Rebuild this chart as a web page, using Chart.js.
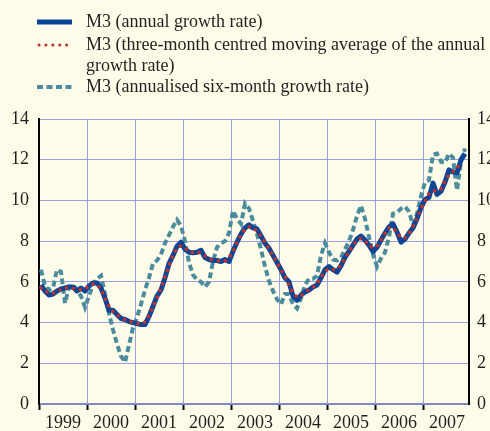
<!DOCTYPE html>
<html lang="en">
  <head>
    <meta charset="UTF-8" />
    <title>M3 growth</title>
    <script src="https://cdn.jsdelivr.net/npm/chart.js"></script>
    <style>
      body {
        margin: 0;
        background-color: #fffde9;
        font-family: "Liberation Serif", "Times New Roman", serif;
      }

      #wrap {
        position: relative;
        width: 490px;
        height: 431px;
        overflow: hidden;
      }

      #legend .row {
        position: absolute;
        left: 37px;
        font-size: 18px;
        line-height: 21px;
        color: #231f20;
        white-space: nowrap;
      }

      #legend svg {
        position: absolute;
        left: 0;
        top: 7px;
      }

      #legend span {
        position: absolute;
        left: 49px;
        top: 0;
      }
    </style>
  </head>
  <body>
    <div id="wrap">
      <canvas id="m3Chart"></canvas>
      <div id="legend"></div>
    </div>

    <script>
      // monthly values, Jan 1999 - Nov 2007
      const annualGrowth = [
        5.85, 5.55, 5.35, 5.4, 5.55, 5.65, 5.7, 5.75, 5.75, 5.55, 5.7, 5.55,
        5.8, 5.95, 5.95, 5.7, 5.2, 4.6, 4.6, 4.4, 4.2, 4.15, 4.05, 4.0,
        3.95, 3.9, 3.9, 4.3, 4.8, 5.3, 5.6, 6.2, 6.9, 7.3, 7.75, 7.95,
        7.6, 7.45, 7.43, 7.45, 7.55, 7.2, 7.1, 7.05, 7.05, 7.0, 7.1, 7.0,
        7.5, 7.95, 8.35, 8.65, 8.8, 8.65, 8.6, 8.25, 7.9, 7.65, 7.3, 6.95,
        6.6, 6.2, 6.0, 5.3, 5.1, 5.35, 5.5, 5.6, 5.75, 5.85, 6.2, 6.6,
        6.75, 6.6, 6.48, 6.8, 7.2, 7.5, 7.8, 8.1, 8.25, 8.05, 7.8, 7.5,
        7.7, 8.05, 8.4, 8.7, 8.85, 8.45, 7.95, 8.1, 8.4, 8.65, 9.1, 9.65,
        10.05, 10.15, 10.85, 10.3, 10.45, 10.9, 11.5, 11.4, 11.35, 12.0, 12.3,
      ];
      const movingAverage = [
        5.7, 5.58, 5.43, 5.43, 5.53, 5.63, 5.7, 5.73, 5.68, 5.67, 5.6, 5.68,
        5.77, 5.9, 5.87, 5.62, 5.17, 4.8, 4.53, 4.4, 4.25, 4.13, 4.07, 4.0,
        3.95, 3.92, 4.03, 4.33, 4.8, 5.23, 5.7, 6.23, 6.8, 7.32, 7.67, 7.77,
        7.67, 7.49, 7.44, 7.48, 7.4, 7.28, 7.12, 7.07, 7.03, 7.05, 7.03, 7.2,
        7.48, 7.93, 8.32, 8.6, 8.7, 8.68, 8.5, 8.25, 7.93, 7.62, 7.3, 6.95,
        6.58, 6.27, 5.83, 5.47, 5.25, 5.32, 5.48, 5.62, 5.73, 5.93, 6.22, 6.52,
        6.65, 6.61, 6.63, 6.83, 7.17, 7.5, 7.8, 8.05, 8.13, 8.03, 7.78, 7.67,
        7.75, 8.05, 8.38, 8.65, 8.67, 8.42, 8.17, 8.15, 8.38, 8.72, 9.13, 9.6,
        9.95, 10.35, 10.43, 10.53, 10.55, 10.95, 11.27, 11.42, 11.58, 11.88, null,
      ];
      const sixMonthGrowth = [
        6.6, 5.8, 5.6, 5.7, 6.6, 6.5, 4.95, 5.75, 5.85, 5.6, 5.3, 4.75,
        5.3, 5.9, 6.15, 6.3, 5.4, 4.45, 3.65, 2.95, 2.35, 2.05, 2.9, 3.75,
        4.25, 4.9, 5.6, 6.2, 6.9, 7.05, 7.35, 7.9, 8.3, 8.7, 9.05, 8.75,
        8.0, 6.95, 6.35, 6.1, 6.0, 5.75, 6.0, 7.0, 7.7, 7.9, 8.0, 8.4,
        9.5, 9.1, 8.85, 9.85, 9.6, 9.0, 8.35, 7.6, 6.75, 6.05, 5.55, 5.15,
        4.9, 5.4, 5.4, 4.9, 4.7, 5.2, 5.85, 6.15, 6.15, 6.3, 7.3, 7.9,
        7.45, 7.1, 7.05, 7.2, 7.6, 8.0, 8.55, 9.25, 9.75, 9.1, 8.2, 7.35,
        6.75, 7.15, 7.45, 8.2, 9.35, 9.4, 9.6, 9.7, 9.45, 8.8, 9.35, 10.2,
        10.9, 11.0, 12.25, 12.3, 11.9, 11.85, 12.3, 12.1, 10.5, 11.9, 12.55,
      ];
      const years = ["1999", "2000", "2001", "2002", "2003", "2004", "2005", "2006", "2007"];
      const seriesNames = [
        "M3 (annual growth rate)",
        "M3 (three-month centred moving average of the annual<br>growth rate)",
        "M3 (annualised six-month growth rate)",
      ];

      const blue = "#0b4596";
      const red = "#bf3229";
      const teal = "#4a8c9e";
      const gridColor = "#98a1dc";
      const serif = "'Liberation Serif', 'Times New Roman', serif";

      const toPoints = (arr) => arr.map((v, i) => ({ x: i + 0.5, y: v }));

      // legend drawn as html so the long label can wrap like the original
      const swatches = [
        `<line x1="0" y1="4" x2="35" y2="4" stroke="${blue}" stroke-width="5"/>`,
        `<line x1="2" y1="4" x2="35" y2="4" stroke="${red}" stroke-width="3" stroke-dasharray="0.1 6.8" stroke-linecap="round"/>`,
        `<line x1="0" y1="4" x2="35" y2="4" stroke="${teal}" stroke-width="4" stroke-dasharray="6 3.5"/>`,
      ];
      const rowTops = [11, 34, 76];
      const legendBox = document.getElementById("legend");
      seriesNames.forEach((name, i) => {
        legendBox.innerHTML +=
          `<div class="row" style="top:${rowTops[i]}px">` +
          `<svg width="36" height="8">${swatches[i]}</svg>` +
          `<span>${name}</span></div>`;
      });

      const ctx = document.getElementById("m3Chart").getContext("2d");

      new Chart(ctx, {
        type: "line",
        data: {
          datasets: [
            {
              label: "annual",
              data: toPoints(annualGrowth),
              borderColor: blue,
              borderWidth: 5,
              borderJoinStyle: "round",
              pointRadius: 0,
              order: 1,
            },
            {
              label: "moving average",
              data: toPoints(movingAverage),
              borderColor: red,
              borderWidth: 3.5,
              borderDash: [0.1, 7],
              borderCapStyle: "round",
              pointRadius: 0,
              order: 0,
            },
            {
              label: "six-month",
              data: toPoints(sixMonthGrowth),
              borderColor: teal,
              borderWidth: 4,
              borderDash: [6, 3.5],
              pointRadius: 0,
              order: 2,
            },
          ],
        },
        options: {
          responsive: true,
          maintainAspectRatio: false,
          animation: false,
          layout: { padding: { top: 119, left: 0, right: 0, bottom: 0 } },
          plugins: { legend: { display: false }, tooltip: { enabled: false } },
          scales: {
            x: {
              type: "linear",
              min: 0,
              max: 107.5,
              afterBuildTicks: (scale) => {
                scale.ticks = years.map((y, i) => ({ value: i * 12 }));
              },
              afterFit: (scale) => {
                scale.height = 27;
              },
              ticks: {
                autoSkip: false,
                maxRotation: 0,
                labelOffset: 24,
                padding: 2,
                color: "#231f20",
                font: { family: serif, size: 18 },
                callback: (v) => years[Math.round(v / 12)],
              },
              grid: {
                color: gridColor,
                lineWidth: 1,
                tickColor: "#000",
                tickLength: 6,
                tickWidth: 2,
              },
              border: { color: "#7f88c2", width: 2 },
            },
            y: {
              position: "left",
              min: 0,
              max: 14,
              afterFit: (scale) => {
                scale.width = 39;
              },
              ticks: {
                stepSize: 2,
                padding: 10,
                color: "#231f20",
                font: { family: serif, size: 18 },
              },
              grid: { color: gridColor, lineWidth: 1, drawTicks: false },
              border: { color: "#000", width: 2 },
            },
            y2: {
              position: "right",
              min: 0,
              max: 14,
              afterFit: (scale) => {
                scale.width = 21;
              },
              ticks: {
                stepSize: 2,
                padding: 8,
                color: "#231f20",
                font: { family: serif, size: 18 },
              },
              grid: { display: false, drawTicks: false },
              border: { color: "#000", width: 2 },
            },
          },
        },
      });
    </script>
  </body>
</html>
